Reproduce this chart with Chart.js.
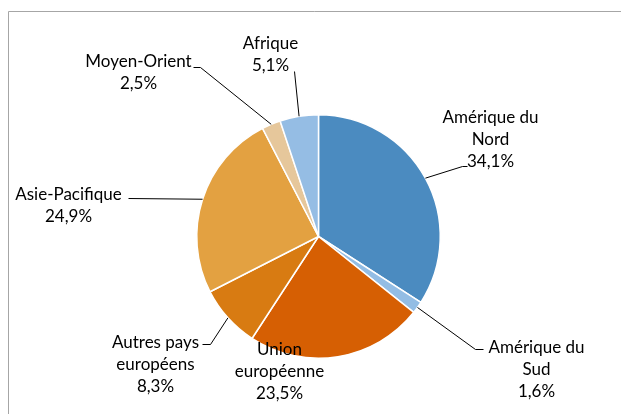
<!DOCTYPE html>
<html>
<head>
<meta charset="utf-8">
<script src="https://cdn.jsdelivr.net/npm/chart.js@4/dist/chart.umd.min.js"></script>
<style>
  html, body { margin: 0; padding: 0; background: #fff; }
  #wrap { width: 621px; height: 414px; position: relative; }
</style>
</head>
<body>
<div id="wrap"><canvas id="pie_chart" width="621" height="414"></canvas></div>
<script>
// data
var regions = [
  ['Amérique du', 'Nord'],
  ['Amérique du', 'Sud'],
  ['Union', 'européenne'],
  ['Autres pays', 'européens'],
  ['Asie-Pacifique'],
  ['Moyen-Orient'],
  ['Afrique']
];
var shares = [34.1, 1.6, 23.5, 8.3, 24.9, 2.5, 5.1];
var sliceColors = ['#4b8bc0', '#93bde4', '#d65f03', '#d87b12', '#e3a141', '#e6c79b', '#95bde4'];

// label placement, relative to pie centre (tx,ty = text centre / first line)
// lead = leader points going from the label back to the slice
var labelPos = [
  { tx: 172, ty: -119, lead: [[149, -70], [144, -70]] },
  { tx: 218, ty: 111, lead: [[165, 113], [157, 113]] },
  { tx: -39, ty: 113, lead: [] },
  { tx: -163, ty: 106, lead: [[-116, 108], [-108, 108]] },
  { tx: -250, ty: -42, lead: [[-190, -38]] },
  { tx: -180, ty: -175, lead: [[-125, -169], [-118, -169]] },
  { tx: -48, ty: -193, lead: [[-24, -165]] }
];

var FONT = '17px Lato';
var LINE_H = 22;

function fmtPct(v) {
  return v.toFixed(1).replace('.', ',') + '%';
}

/* cadre gris (haut + gauche) */
var framePlugin = {
  id: 'frame',
  beforeDraw: function(chart) {
    var ctx = chart.ctx;
    ctx.save();
    ctx.strokeStyle = '#a6a6a6';
    ctx.lineWidth = 1;
    ctx.beginPath();
    ctx.moveTo(8.5, 414);
    ctx.lineTo(8.5, 11.5);
    ctx.lineTo(621, 11.5);
    ctx.stroke();
    ctx.restore();
  }
};

/* etiquettes + lignes de rappel */
var labelPlugin = {
  id: 'outLabels',
  afterDatasetsDraw: function(chart) {
    var ctx = chart.ctx;
    var meta = chart.getDatasetMeta(0);
    var values = chart.data.datasets[0].data;
    ctx.save();
    meta.data.forEach(function(arc, i) {
      var p = arc.getProps(['x', 'y', 'startAngle', 'endAngle', 'outerRadius'], true);
      var mid = (p.startAngle + p.endAngle) / 2;
      var ex = p.x + Math.cos(mid) * p.outerRadius;
      var ey = p.y + Math.sin(mid) * p.outerRadius;
      var lp = labelPos[i];

      if (lp.lead.length) {
        ctx.strokeStyle = '#000';
        ctx.lineWidth = 1;
        ctx.beginPath();
        ctx.moveTo(p.x + lp.lead[0][0], p.y + lp.lead[0][1]);
        for (var k = 1; k < lp.lead.length; k++) {
          ctx.lineTo(p.x + lp.lead[k][0], p.y + lp.lead[k][1]);
        }
        ctx.lineTo(ex, ey);
        ctx.stroke();
      }

      var lines = chart.data.labels[i].concat([fmtPct(values[i])]);
      ctx.fillStyle = '#000';
      ctx.font = FONT;
      ctx.textAlign = 'center';
      ctx.textBaseline = 'middle';
      lines.forEach(function(t, j) {
        ctx.fillText(t, p.x + lp.tx, p.y + lp.ty + j * LINE_H);
      });
    });
    ctx.restore();
  }
};

function printChartPie(labels, data, id) {
  var ctx = document.getElementById(id).getContext('2d');
  var chart = new Chart(ctx, {
    type: 'pie',
    data: {
      labels: labels,
      datasets: [{
        data: data,
        backgroundColor: sliceColors,
        borderColor: '#ffffff',
        borderWidth: 1.5
      }]
    },
    options: {
      responsive: false,
      animation: false,
      layout: {
        padding: { left: 196, right: 180, top: 114, bottom: 55 }
      },
      plugins: {
        legend: { display: false },
        tooltip: { enabled: false }
      }
    },
    plugins: [framePlugin, labelPlugin]
  });
  return chart;
}

printChartPie(regions, shares, 'pie_chart');
</script>
</body>
</html>
